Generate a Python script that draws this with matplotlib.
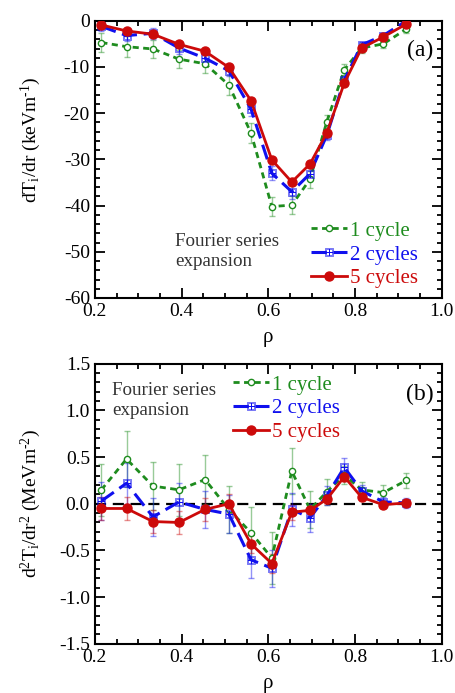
import numpy as np
import matplotlib.pyplot as plt
from matplotlib.ticker import MultipleLocator

plt.rcParams['font.family'] = ['Liberation Serif', 'DejaVu Serif']
plt.rcParams['mathtext.fontset'] = 'custom'
plt.rcParams['mathtext.rm'] = 'Liberation Serif'
plt.rcParams['mathtext.it'] = 'Liberation Serif:italic'
plt.rcParams['axes.unicode_minus'] = False

rho = [0.215, 0.273, 0.334, 0.394, 0.454, 0.509, 0.560, 0.608,
       0.654, 0.696, 0.735, 0.775, 0.815, 0.865, 0.918]

# dTi/dr (keV/m)
grad_1c = [-4.7, -5.6, -6.1, -8.3, -9.3, -13.9, -24.3, -40.2,
           -39.9, -34.3, -21.8, -10.6, -5.9, -5.0, -1.8]
grad_1c_err = [2.0, 2.2, 2.0, 2.0, 2.0, 2.2, 2.2, 2.0,
               2.0, 1.8, 1.5, 1.2, 1.0, 0.8, 0.8]
grad_2c = [-1.2, -3.2, -2.7, -5.9, -8.1, -10.8, -19.1, -33.0,
           -37.0, -33.1, -24.7, -12.8, -5.2, -3.2, 0.0]
grad_2c_err = [1.0, 1.2, 1.2, 1.2, 1.0, 1.2, 1.5, 1.5,
               1.5, 1.2, 1.0, 0.8, 0.6, 0.5, 0.5]
grad_5c = [-0.9, -2.2, -2.9, -5.1, -6.6, -10.1, -17.3, -30.1,
           -34.9, -31.0, -24.2, -13.5, -5.9, -3.5, -0.7]
grad_5c_err = [0.4, 0.4, 0.4, 0.4, 0.4, 0.4, 0.5, 0.5,
               0.5, 0.5, 0.4, 0.4, 0.3, 0.3, 0.3]

# d2Ti/dr2 (MeV/m2)
curv_1c = [0.15, 0.48, 0.19, 0.15, 0.26, -0.06, -0.31, -0.58,
           0.35, -0.06, 0.13, 0.31, 0.15, 0.12, 0.25]
curv_1c_err = [0.28, 0.30, 0.26, 0.28, 0.26, 0.25, 0.28, 0.28,
               0.25, 0.20, 0.14, 0.10, 0.08, 0.08, 0.08]
curv_2c = [0.03, 0.22, -0.14, 0.02, -0.06, -0.11, -0.60, -0.69,
           -0.06, -0.15, 0.09, 0.39, 0.14, 0.02, 0.01]
curv_2c_err = [0.20, 0.22, 0.20, 0.20, 0.20, 0.20, 0.20, 0.20,
               0.18, 0.15, 0.10, 0.10, 0.06, 0.05, 0.05]
curv_5c = [-0.05, -0.05, -0.19, -0.20, -0.06, 0.0, -0.43, -0.64,
           -0.09, -0.07, 0.05, 0.29, 0.07, -0.01, 0.01]
curv_5c_err = [0.12, 0.12, 0.12, 0.12, 0.12, 0.10, 0.10, 0.10,
               0.08, 0.06, 0.05, 0.05, 0.04, 0.03, 0.03]

labels = ['1 cycle', '2 cycles', '5 cycles']
colors = ['#1e8c1e', '#1010ee', '#cc0a0a']
styles = [dict(ls=(0, (2.2, 1.6)), lw=2.0, marker='o', ms=4.5, mfc='white', mew=1.0),
          dict(ls=(0, (5, 2.2)), lw=2.2, marker='$\\boxplus$', ms=6, mfc='none', mew=0.4),
          dict(ls='-', lw=2.0, marker='o', ms=6.5, mfc=None, mew=1.0)]

fig = plt.figure(figsize=(4.56, 6.93), dpi=100)
ax1 = fig.add_axes([0.208, 0.570, 0.761, 0.400])
ax2 = fig.add_axes([0.208, 0.071, 0.761, 0.404])


def draw(ax, series):
    handles = []
    for (y, err), lab, c, st in zip(series, labels, colors, styles):
        ax.errorbar(rho, y, yerr=err, fmt='none', ecolor=c, alpha=0.45,
                    elinewidth=1.0, capsize=2.5, capthick=1.0, zorder=2)
        kw = dict(st)
        if kw['mfc'] is None:
            kw['mfc'] = c
        h, = ax.plot(rho, y, color=c, mec=c, label=lab, zorder=3, **kw)
        handles.append(h)
    return handles


def style_axes(ax, ymin, ymax, major, minor):
    ax.set_xlim(0.2, 1.0)
    ax.set_ylim(ymin, ymax)
    ax.xaxis.set_major_locator(MultipleLocator(0.2))
    ax.xaxis.set_minor_locator(MultipleLocator(0.05))
    ax.yaxis.set_major_locator(MultipleLocator(major))
    ax.yaxis.set_minor_locator(MultipleLocator(minor))
    ax.tick_params(which='both', direction='in', top=True, right=True,
                   labelsize=14, width=1.3)
    ax.tick_params(which='major', length=7)
    ax.tick_params(which='minor', length=3.5)
    for sp in ax.spines.values():
        sp.set_linewidth(1.5)
    ax.set_xlabel('ρ', fontsize=15, labelpad=6)


def legend(ax, handles, **kw):
    leg = ax.legend(handles=handles, frameon=False, fontsize=15, handlelength=1.7,
                    handletextpad=0.15, labelspacing=0.2, borderaxespad=0.0, **kw)
    for t, c in zip(leg.get_texts(), colors):
        t.set_color(c)
    return leg


h1 = draw(ax1, [(grad_1c, grad_1c_err), (grad_2c, grad_2c_err), (grad_5c, grad_5c_err)])
style_axes(ax1, -60, 0, 10, 2)
ax1.set_yticklabels([f'{int(v)}' for v in ax1.get_yticks()])
ax1.set_ylabel(r'dT$_{\rm i}$/dr (keVm$^{\text{-1}}$)', fontsize=14)
ax1.yaxis.set_label_coords(-0.15, 0.57)
ax1.text(0.975, 0.93, '(a)', transform=ax1.transAxes, ha='right', va='top', fontsize=17)
ax1.text(0.231, 0.168, 'Fourier series\nexpansion', transform=ax1.transAxes,
         fontsize=13.7, color='#333333', va='center', linespacing=1.2)
legend(ax1, h1, loc='lower left', bbox_to_anchor=(0.60, 0.005))

h2 = draw(ax2, [(curv_1c, curv_1c_err), (curv_2c, curv_2c_err), (curv_5c, curv_5c_err)])
ax2.axhline(0, color='black', ls=(0, (5, 3)), lw=1.6, zorder=1)
style_axes(ax2, -1.5, 1.5, 0.5, 0.1)
ax2.set_ylabel(r'd$^{\rm 2}$T$_{\rm i}$/dr$^{\rm 2}$ (MeVm$^{\text{-2}}$)', fontsize=14)
ax2.yaxis.set_label_coords(-0.15, 0.5)
ax2.text(0.05, 0.87, 'Fourier series\nexpansion', transform=ax2.transAxes,
         fontsize=13.7, color='#333333', va='center', linespacing=1.2)
ax2.text(0.975, 0.93, '(b)', transform=ax2.transAxes, ha='right', va='top', fontsize=17)
legend(ax2, h2, loc='upper left', bbox_to_anchor=(0.375, 0.99))

fig.savefig('out.png', dpi=100)
